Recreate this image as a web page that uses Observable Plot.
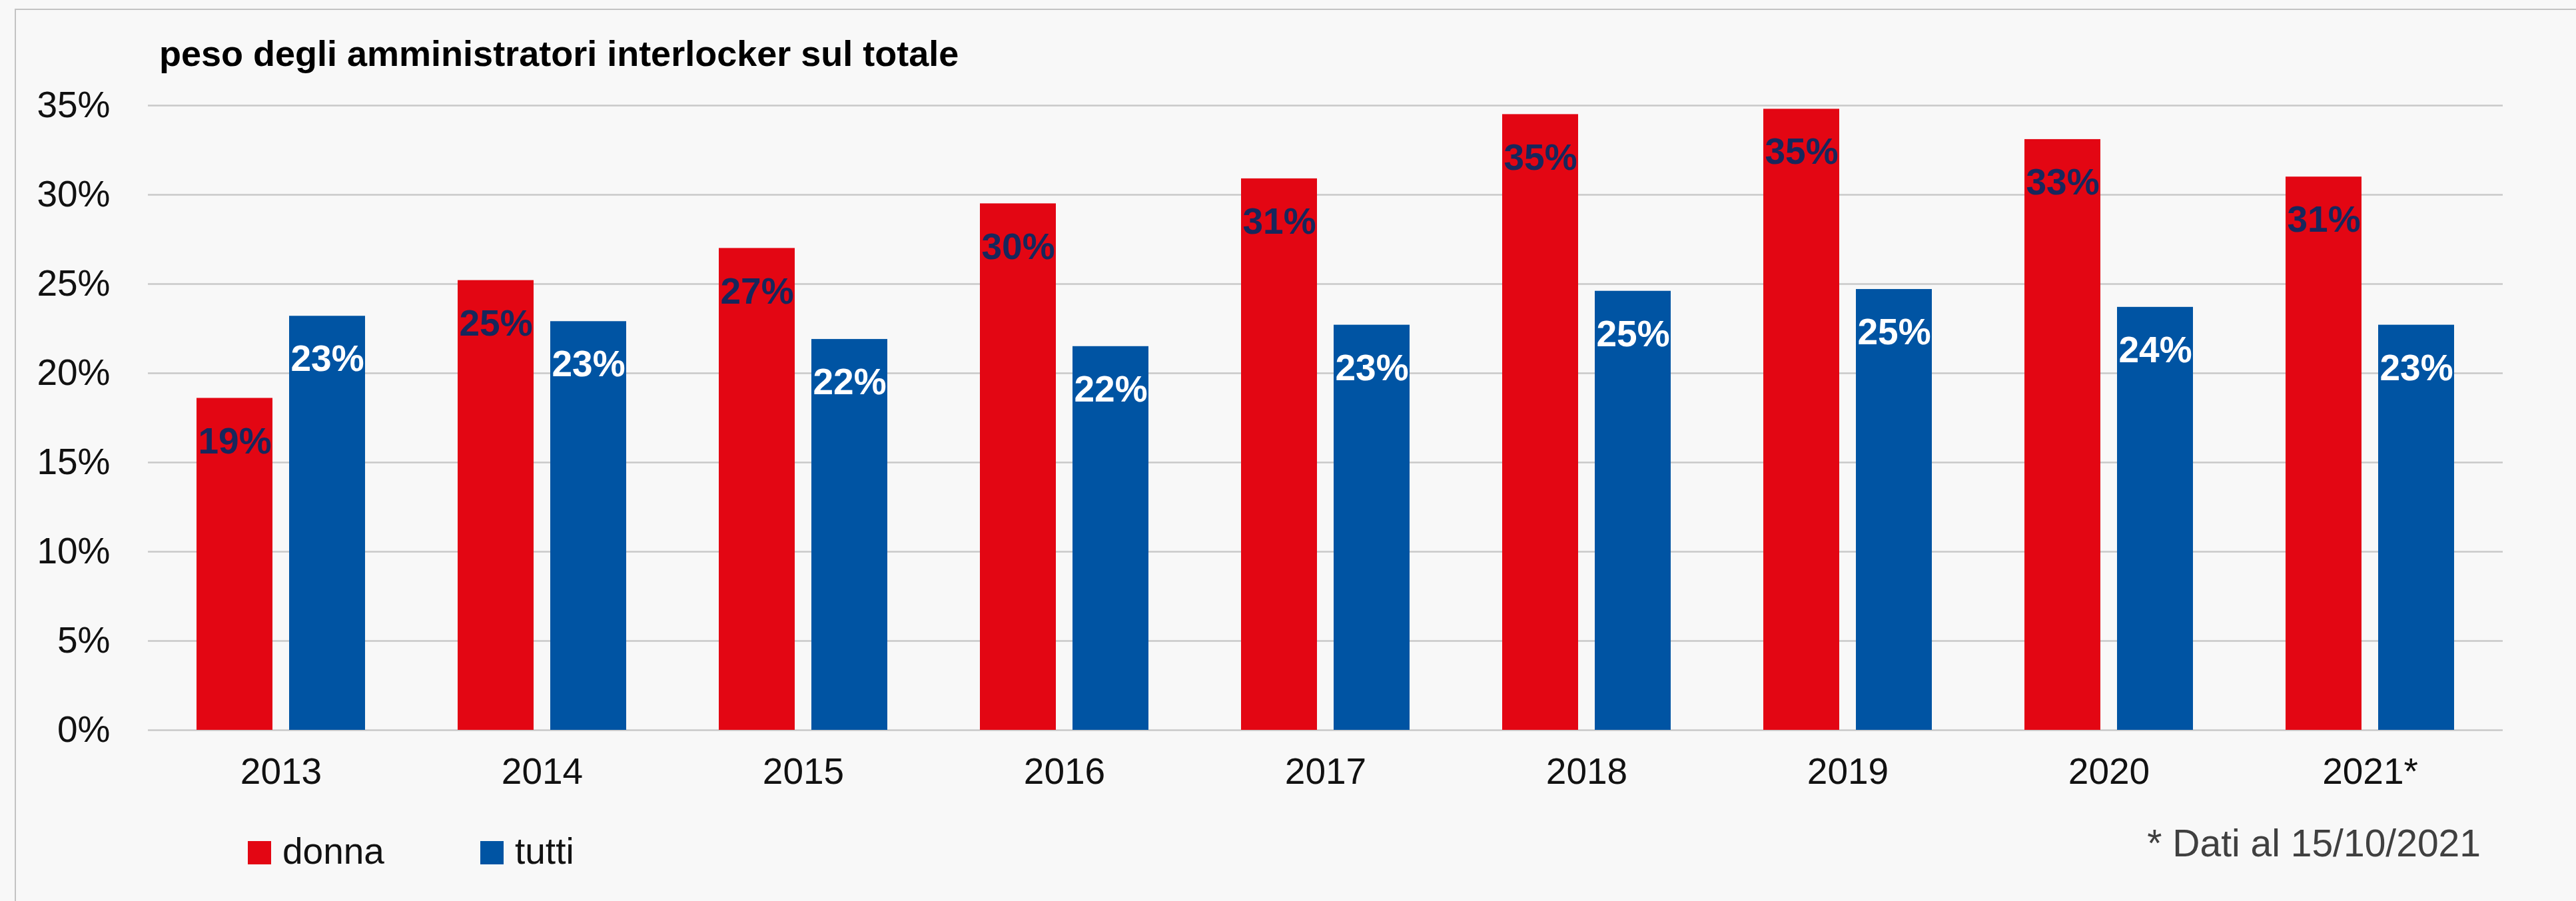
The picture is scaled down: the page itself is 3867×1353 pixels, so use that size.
<!DOCTYPE html>
<html>
<head>
<meta charset="utf-8">
<script src="https://cdn.jsdelivr.net/npm/d3@7"></script>
<script src="https://cdn.jsdelivr.net/npm/@observablehq/plot@0.6"></script>
<style>
  html, body { margin: 0; padding: 0; background: #f8f8f8; }
  body { width: 3867px; height: 1353px; position: relative; overflow: hidden;
         font-family: "Liberation Sans", Arial, sans-serif; }
  #frame { position: absolute; left: 22px; top: 13px; right: -20px; bottom: -20px;
           border-left: 2px solid #c3c3c3; border-top: 2px solid #c3c3c3; }
  #chart { position: absolute; left: 0; top: 0; }
  .txt { position: absolute; line-height: 1; white-space: nowrap; }
  #title { left: 239px; top: 53px; font-size: 54px; font-weight: bold; color: #000; }
  .sw { position: absolute; width: 35px; height: 35px; top: 1263px; }
  .lg { top: 1251px; font-size: 55px; color: #111; }
  #note { right: 143px; top: 1238px; font-size: 57px; color: #404040; }
</style>
</head>
<body>
<div id="frame"></div>
<div id="chart"></div>
<div id="title" class="txt">peso degli amministratori interlocker sul totale</div>
<div id="legend"></div>
<div id="note" class="txt">* Dati al 15/10/2021</div>
<script>
// ---- data ----
const years = ["2013", "2014", "2015", "2016", "2017", "2018", "2019", "2020", "2021*"];
const donna = [18.6, 25.2, 27.0, 29.5, 30.9, 34.5, 34.8, 33.1, 31.0];
const tutti = [23.2, 22.9, 21.9, 21.5, 22.7, 24.6, 24.7, 23.7, 22.7];
const series = ["donna", "tutti"];
const colors = ["#E30613", "#0054A3"];
const yTicks = [0, 5, 10, 15, 20, 25, 30, 35];

const rowsDonna = years.map((y, i) => ({year: y, serie: "donna", value: donna[i]}));
const rowsTutti = years.map((y, i) => ({year: y, serie: "tutti", value: tutti[i]}));
const pct = d => Math.round(d.value) + "%";

const chart = Plot.plot({
  width: 3867,
  height: 1353,
  marginLeft: 222,
  marginRight: 110,
  marginTop: 158,
  marginBottom: 257,
  style: {background: "transparent", fontFamily: "'Liberation Sans', Arial, sans-serif", overflow: "visible"},
  x: {domain: years, paddingInner: 0.3534, paddingOuter: 0.1767, label: null},
  y: {domain: [0, 35], label: null},
  color: {domain: series, range: colors},
  marks: [
    Plot.gridY({ticks: yTicks, stroke: "#c9c9c9", strokeOpacity: 1, strokeWidth: 2.5}),
    Plot.barY(rowsDonna, {x: "year", y: "value", fill: "serie", insetRight: 139}),
    Plot.barY(rowsTutti, {x: "year", y: "value", fill: "serie", insetLeft: 139}),
    Plot.text(rowsDonna, {x: "year", y: "value", text: pct, dx: -69.5, dy: 65,
      fill: "#17275c", fontWeight: "bold", fontSize: 55, lineAnchor: "middle"}),
    Plot.text(rowsTutti, {x: "year", y: "value", text: pct, dx: 69.5, dy: 65,
      fill: "#ffffff", fontWeight: "bold", fontSize: 55, lineAnchor: "middle"}),
    Plot.axisY({ticks: yTicks, tickFormat: d => d + "%", tickSize: 0, tickPadding: 57,
      fontSize: 55, color: "#111"}),
    Plot.axisX({tickSize: 0, tickPadding: 41, fontSize: 55, color: "#111"})
  ]
});
document.getElementById("chart").appendChild(chart);

// ---- legend ----
const legend = document.getElementById("legend");
const swLeft = [372, 721];
const txLeft = [424, 773];
series.forEach((s, i) => {
  const sw = document.createElement("div");
  sw.className = "sw";
  sw.style.left = swLeft[i] + "px";
  sw.style.background = colors[i];
  legend.appendChild(sw);
  const t = document.createElement("div");
  t.className = "txt lg";
  t.style.left = txLeft[i] + "px";
  t.textContent = s;
  legend.appendChild(t);
});
</script>
</body>
</html>
